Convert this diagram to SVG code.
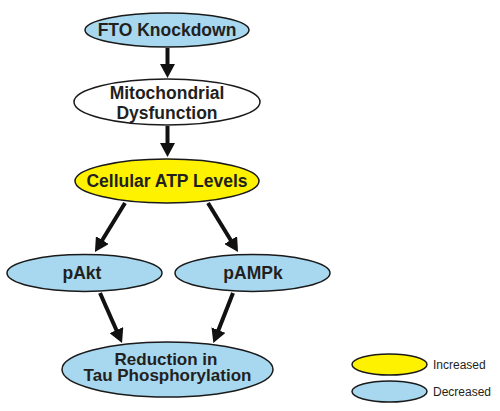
<svg xmlns="http://www.w3.org/2000/svg" width="500" height="411" viewBox="0 0 500 411">
<defs>
<style>
.n{stroke:#1a1a1a;stroke-width:1.5}
.blue{fill:#a7d8ef}
.yellow{fill:#fff200}
.white{fill:#ffffff}
.t{font-family:"Liberation Sans",Arial,sans-serif;font-weight:bold;font-size:17.5px;fill:#231f20;text-anchor:middle}
.t2{font-size:17px}
.lg{font-family:"Liberation Sans",Arial,sans-serif;font-size:12px;fill:#231f20}
.a{stroke:#111;stroke-width:4;fill:none;marker-end:url(#ah)}
</style>
<marker id="ah" markerUnits="userSpaceOnUse" markerWidth="14" markerHeight="15" refX="4" refY="7.5" orient="auto">
<path d="M0,0 L14,7.5 L0,15 z" fill="#111"/>
</marker>
</defs>
<rect width="500" height="411" fill="#ffffff"/>
<g id="connectors">
<line class="a" x1="167.5" y1="48" x2="167.5" y2="68"/>
<line class="a" x1="167.5" y1="126" x2="167.5" y2="147"/>
<line class="a" x1="125" y1="203" x2="100.2" y2="243.5"/>
<line class="a" x1="208" y1="203" x2="232.8" y2="243.5"/>
<line class="a" x1="100" y1="293" x2="118" y2="333.8"/>
<line class="a" x1="233" y1="293" x2="217" y2="333.8"/>
</g>
<g id="fto">
<ellipse class="n blue" cx="167" cy="30" rx="82" ry="17"/>
<text class="t" x="167" y="36">FTO Knockdown</text>
</g>
<g id="mito">
<ellipse class="n white" cx="167" cy="102" rx="93" ry="23"/>
<text class="t" x="167" y="99">Mitochondrial</text>
<text class="t" x="167" y="119">Dysfunction</text>
</g>
<g id="atp">
<ellipse class="n yellow" cx="167" cy="181" rx="92" ry="22"/>
<text class="t" x="167" y="187">Cellular ATP Levels</text>
</g>
<g id="pakt">
<ellipse class="n blue" cx="84.5" cy="273" rx="77.5" ry="18.5"/>
<text class="t" x="82" y="279">pAkt</text>
</g>
<g id="pampk">
<ellipse class="n blue" cx="252.5" cy="273" rx="77.5" ry="18.5"/>
<text class="t" x="253" y="279">pAMPk</text>
</g>
<g id="reduction">
<ellipse class="n blue" cx="167.5" cy="369.5" rx="105.5" ry="27.5"/>
<text class="t t2" x="166" y="365">Reduction in</text>
<text class="t t2" x="167.5" y="381">Tau Phosphorylation</text>
</g>
<g id="legend-increased">
<ellipse class="n yellow" cx="389.5" cy="364.5" rx="37.5" ry="10.5"/>
<text class="lg" x="433" y="369">Increased</text>
</g>
<g id="legend-decreased">
<ellipse class="n blue" cx="389.5" cy="391.5" rx="37.5" ry="10.5"/>
<text class="lg" x="433" y="396">Decreased</text>
</g>
</svg>
